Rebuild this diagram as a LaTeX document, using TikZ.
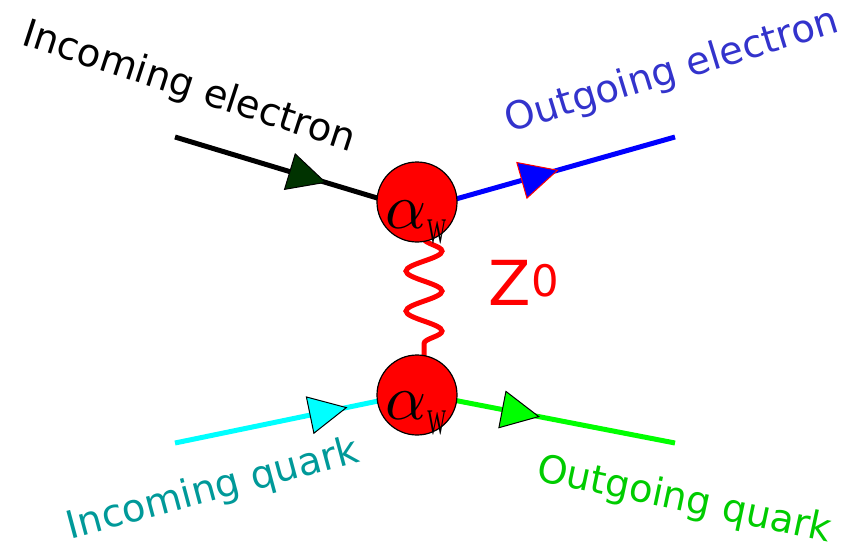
\documentclass[tikz,border=0pt]{standalone}
\usepackage{fontspec}
\setmainfont{DejaVu Sans}
\newfontfamily\seriffam{Liberation Serif}
\usetikzlibrary{decorations.pathmorphing,decorations.markings,backgrounds}
\definecolor{ecolt}{HTML}{3333CC}
\definecolor{qint}{HTML}{009999}
\definecolor{qoutt}{HTML}{00CC00}
\definecolor{darkg}{HTML}{003300}
\definecolor{cyanl}{HTML}{00FFFF}
\definecolor{greenl}{HTML}{00FF00}
\definecolor{bluel}{HTML}{0000FF}
\newcommand{\alphaw}{\scalebox{6.4}{$\alpha$}\hspace{1pt}\raisebox{-15pt}{\seriffam\fontsize{36}{36}\selectfont\scalebox{0.55}[1]{W}}}
\begin{document}
\begin{tikzpicture}[x=1pt,y=-1pt,
  vertex/.style={circle, draw=black, fill=red, line width=1.2pt, minimum size=80pt, inner sep=0pt},
  alphalbl/.style={anchor=base west, inner sep=0pt},
  lbl/.style={font=\fontsize{38.5}{38.5}\selectfont, inner sep=0pt},
  fermion/.style={line width=5pt},
  tmark/.style n args={3}{postaction={decorate}, decoration={markings,
      mark=at position #1 with {\draw[fill=#2, draw=#3, line width=1pt, line join=miter] (0,-18.5) -- (37,0) -- (0,18.5) -- cycle;}}},
  boson/.style={draw=red, line width=5pt, decorate, decoration={snake, amplitude=18pt, segment length=40pt}}
]
\useasboundingbox (0,0) rectangle (848,551);

% vertices
\node[vertex] (top) at (417,202) {};
\node[vertex] (bot) at (417,395) {};
\node[alphalbl] (topl) at (385,228) {\alphaw};
\node[alphalbl] (botl) at (385,419) {\alphaw};

% end points
\coordinate (ein) at (175,137);
\coordinate (eout) at (675,137);
\coordinate (qin) at (175,443);
\coordinate (qout) at (675,443);
\coordinate (tc) at (417,210);
\coordinate (bc) at (417,393);

\begin{pgfonlayer}{background}
  \draw[fermion, draw=black, tmark={120pt}{darkg}{black}] (ein) -- (tc);
  \draw[fermion, draw=bluel, tmark={109pt}{bluel}{red}] (tc) -- (eout);
  \draw[fermion, draw=cyanl, tmark={138pt}{cyanl}{black}] (qin) -- (bc);
  \draw[fermion, draw=greenl, tmark={87pt}{greenl}{black}] (bc) -- (qout);
  \draw[boson] ([shift={(7,-4)}]top.south) -- ([shift={(7,4)}]bot.north);
\end{pgfonlayer}

% labels
\node[lbl, rotate=-18, text=black] (lie) at (189,88) {Incoming electron};
\node[lbl, rotate=17, text=ecolt] (loe) at (672,72) {Outgoing electron};
\node[lbl, rotate=15, text=qint] (liq) at (213,490) {Incoming quark};
\node[lbl, rotate=-12, text=qoutt] (loq) at (684,501) {Outgoing quark};
\node[text=red, font=\fontsize{62}{62}\selectfont, inner sep=0pt] (z) at (524,283) {Z\textsuperscript{0}};
\end{tikzpicture}
\end{document}
